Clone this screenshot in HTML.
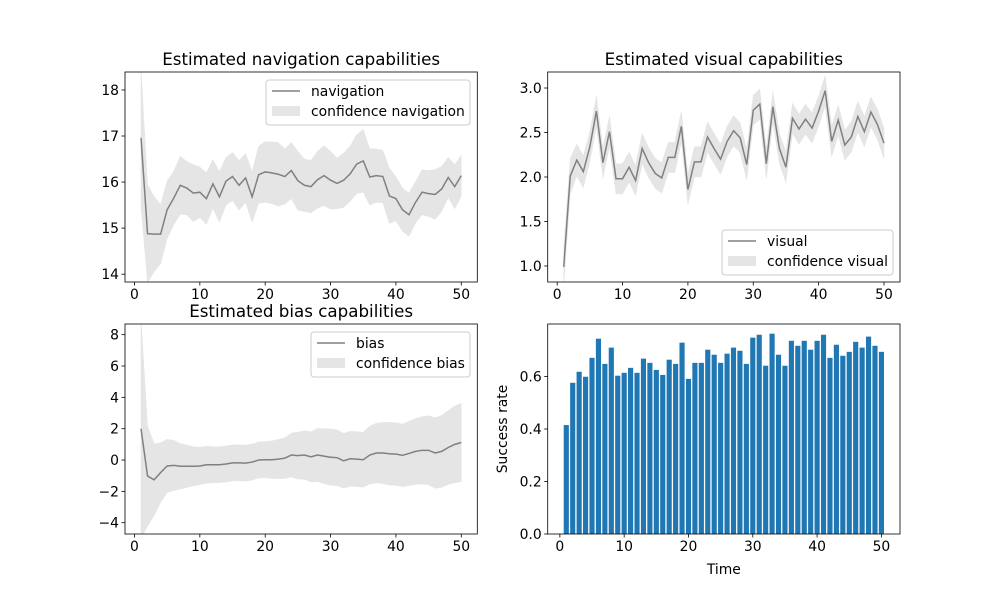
<!DOCTYPE html>
<html><head><meta charset="utf-8"><style>
body{margin:0;background:#fff}
svg text{font-family:"DejaVu Sans","Liberation Sans",sans-serif;fill:#000}
</style></head><body>
<svg id="fig" width="1000" height="600" xmlns="http://www.w3.org/2000/svg"></svg>
<script>
const times = Array.from({length:50},(_, i)=>i+1);
const navValues = [16.96,14.88,14.87,14.87,15.40,15.65,15.93,15.87,15.76,15.78,15.64,15.96,15.68,16.02,16.12,15.93,16.09,15.68,16.16,16.22,16.20,16.17,16.12,16.25,16.03,15.93,15.90,16.05,16.14,16.04,15.97,16.04,16.18,16.39,16.46,16.11,16.14,16.12,15.70,15.64,15.40,15.29,15.56,15.78,15.75,15.73,15.85,16.10,15.90,16.14];
const navUpper = [18.46,15.94,15.69,15.51,16.03,16.23,16.56,16.45,16.38,16.33,16.20,16.49,16.23,16.54,16.64,16.47,16.62,16.23,16.78,16.88,16.87,16.86,16.72,16.86,16.67,16.50,16.47,16.67,16.79,16.67,16.52,16.63,16.78,17.03,17.14,16.72,16.72,16.69,16.30,16.12,15.87,15.76,16.01,16.27,16.25,16.27,16.34,16.54,16.38,16.59];
const visValues = [0.99,2.01,2.19,2.06,2.34,2.74,2.16,2.51,1.98,1.98,2.11,1.96,2.32,2.16,2.04,1.99,2.22,2.22,2.57,1.86,2.17,2.17,2.45,2.32,2.20,2.40,2.52,2.44,2.14,2.75,2.82,2.15,2.79,2.32,2.11,2.66,2.54,2.65,2.55,2.74,2.97,2.40,2.64,2.36,2.45,2.68,2.51,2.73,2.59,2.38];
const visHalfWidth = [0.22,0.2,0.18,0.18,0.17,0.17,0.17,0.17,0.17,0.17,0.17,0.17,0.17,0.17,0.17,0.17,0.17,0.17,0.17,0.17,0.17,0.17,0.17,0.17,0.17,0.17,0.17,0.17,0.17,0.17,0.17,0.17,0.17,0.17,0.17,0.17,0.17,0.17,0.17,0.17,0.17,0.17,0.17,0.17,0.17,0.17,0.17,0.17,0.17,0.17];
const biasValues = [2.0,-1.02,-1.26,-0.8,-0.38,-0.34,-0.4,-0.4,-0.4,-0.38,-0.3,-0.3,-0.3,-0.25,-0.18,-0.18,-0.2,-0.13,0.0,0.02,0.02,0.06,0.12,0.32,0.28,0.32,0.2,0.32,0.25,0.18,0.15,-0.05,0.08,0.06,0.02,0.32,0.45,0.45,0.4,0.38,0.3,0.42,0.55,0.62,0.62,0.45,0.55,0.8,1.0,1.12];
const biasHalfWidth = [7.0,3.2,2.3,1.9,1.7,1.6,1.45,1.35,1.25,1.2,1.18,1.15,1.15,1.15,1.15,1.15,1.15,1.15,1.15,1.15,1.2,1.25,1.3,1.4,1.5,1.55,1.6,1.7,1.75,1.8,1.78,1.75,1.75,1.75,1.75,1.85,1.9,1.95,2.0,2.0,2.0,2.05,2.1,2.15,2.2,2.25,2.3,2.35,2.45,2.5];
const successRate = [0.415,0.576,0.618,0.599,0.671,0.744,0.648,0.710,0.603,0.614,0.633,0.614,0.668,0.652,0.625,0.606,0.664,0.648,0.729,0.591,0.652,0.652,0.702,0.683,0.652,0.687,0.710,0.698,0.648,0.748,0.759,0.641,0.763,0.683,0.641,0.736,0.717,0.736,0.702,0.736,0.759,0.671,0.721,0.679,0.694,0.732,0.710,0.752,0.717,0.694];
const xTicks = [0,10,20,30,40,50];
const navTicks = [14,15,16,17,18];
const visTicks = [1.0,1.5,2.0,2.5,3.0];
const biasTicks = [-4,-2,0,2,4,6,8];
const rateTicks = [0.0,0.2,0.4,0.6];

const NS="http://www.w3.org/2000/svg";
const svg=document.getElementById('fig');
function mk(tag,attrs,parent){const e=document.createElementNS(NS,tag);for(const k in attrs)e.setAttribute(k,attrs[k]);(parent||svg).appendChild(e);return e;}

function makeAxes(name,x0,y0,w,h,xmin,xmax,ymin,ymax){
  const g=mk('g',{});
  
  
  const sx=v=>x0+(v-xmin)/(xmax-xmin)*w;
  const sy=v=>y0+h-(v-ymin)/(ymax-ymin)*h;
  const clipId=name+'-clip';
  const cp=mk('clipPath',{id:clipId},g);mk('rect',{x:x0,y:y0,width:w,height:h},cp);
  const plot=mk('g',{'clip-path':'url(#'+clipId+')'},g);
  return {g,sx,sy,plot,x0,y0,w,h};
}
function frame(ax,xt,yt,fmt){
  const {g,sx,sy,x0,y0,w,h}=ax;
  const xa=mk('g',{},g);
  
  
  xt.forEach(t=>{const x=sx(t);mk('line',{x1:x,x2:x,y1:y0+h,y2:y0+h+3.5,stroke:'#000','stroke-width':0.8},xa);
    const tx=mk('text',{x:x,y:y0+h+17,'text-anchor':'middle','font-size':'13.9px'},xa);tx.textContent=t;});
  const ya=mk('g',{},g);
  
  
  yt.forEach(t=>{const y=sy(t);mk('line',{x1:x0,x2:x0-3.5,y1:y,y2:y,stroke:'#000','stroke-width':0.8},ya);
    const tx=mk('text',{x:x0-6,y:y+5,'text-anchor':'end','font-size':'13.9px'},ya);tx.textContent=fmt(t);});
  mk('rect',{x:x0,y:y0,width:w,height:h,fill:'none',stroke:'#000','stroke-width':0.8},g);
}
function bandLine(ax,xs,vals,up,lo){
  let d='';xs.forEach((x,i)=>{d+=(i?'L':'M')+ax.sx(x)+','+ax.sy(up[i]);});
  for(let i=xs.length-1;i>=0;i--)d+='L'+ax.sx(xs[i])+','+ax.sy(lo[i]);
  const band=mk('path',{d:d+'Z',fill:'#e5e5e5',stroke:'#e5e5e5','stroke-width':0.5},ax.plot);
  
  
  let l='';xs.forEach((x,i)=>{l+=(i?'L':'M')+ax.sx(x)+','+ax.sy(vals[i]);});
  const line=mk('path',{d:l,fill:'none',stroke:'#808080','stroke-width':1.5},ax.plot);
  
  
}
function title(ax,text,name){const t=mk('text',{x:ax.x0+ax.w/2,y:ax.y0-7,'text-anchor':'middle','font-size':'16.7px'},ax.g);t.textContent=text;
  
  }
function legend(ax,lx,ly,lw,l1,l2,name){
  const g=mk('g',{},ax.g);
  
  
  mk('rect',{x:lx,y:ly,width:lw,height:45,rx:3,fill:'#fff','fill-opacity':0.8,stroke:'#ccc','stroke-width':1},g);
  mk('line',{x1:lx+6,x2:lx+34,y1:ly+11,y2:ly+11,stroke:'#808080','stroke-width':1.5},g);
  const t1=mk('text',{x:lx+45,y:ly+16,'font-size':'13.9px'},g);t1.textContent=l1;
  mk('rect',{x:lx+6,y:ly+26,width:28,height:10,fill:'#e5e5e5'},g);
  const t2=mk('text',{x:lx+45,y:ly+36,'font-size':'13.9px'},g);t2.textContent=l2;
}
const W=352.3,H=210;
// navigation
const a1=makeAxes('navigation-chart',125,72,W,H,-1.45,52.45,13.83,18.39);
bandLine(a1,times,navValues,navUpper,navValues.map((v,i)=>2*v-navUpper[i]));
frame(a1,xTicks,navTicks,t=>t);
title(a1,'Estimated navigation capabilities','navigation-title');
legend(a1,266,80,204,'navigation','confidence navigation','navigation-legend');
// visual
const a2=makeAxes('visual-chart',547.7,72,W,H,-1.45,52.45,0.82,3.18);
bandLine(a2,times,visValues,visValues.map((v,i)=>v+visHalfWidth[i]),visValues.map((v,i)=>v-visHalfWidth[i]));
frame(a2,xTicks,visTicks,t=>t.toFixed(1));
title(a2,'Estimated visual capabilities','visual-title');
legend(a2,722,230,171,'visual','confidence visual','visual-legend');
// bias
const a3=makeAxes('bias-chart',125,324,W,H,-1.45,52.45,-4.72,8.68);
bandLine(a3,times,biasValues,biasValues.map((v,i)=>v+biasHalfWidth[i]),biasValues.map((v,i)=>v-biasHalfWidth[i]));
frame(a3,xTicks,biasTicks,t=>t<0?'\u2212'+(-t):t);
title(a3,'Estimated bias capabilities','bias-title');
legend(a3,311,332,159,'bias','confidence bias','bias-legend');
// success rate
const a4=makeAxes('success-rate-chart',547.7,324,W,H,-1.89,52.89,0,0.8);
times.forEach((x,i)=>{const b=mk('rect',{x:a4.sx(x-0.4),y:a4.sy(successRate[i]),width:a4.sx(x+0.4)-a4.sx(x-0.4),height:a4.sy(0)-a4.sy(successRate[i]),fill:'#1f77b4'},a4.plot);
  
  });
frame(a4,xTicks,rateTicks,t=>t.toFixed(1));
const xl=mk('text',{x:a4.x0+W/2,y:574,'text-anchor':'middle','font-size':'13.9px'},a4.g);xl.textContent='Time';


const yl=mk('text',{x:0,y:0,'text-anchor':'middle','font-size':'13.9px',transform:'translate(507,'+(324+H/2)+') rotate(-90)'},a4.g);yl.textContent='Success rate';


</script>
</body></html>
